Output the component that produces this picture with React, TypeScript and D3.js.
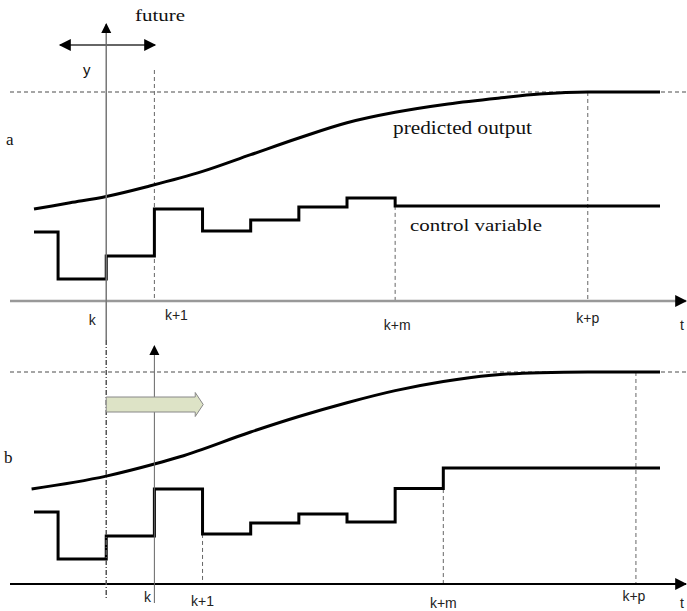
import React from "react";
import * as d3 from "d3";

// sample instants (s = 0 is time k of panel a) and normalised values (1 = setpoint)
const predictedA: [number, number][] = [
  [-1.5, 0.44], [-0.75, 0.47], [0, 0.5], [0.9, 0.55], [2, 0.62], [3, 0.7],
  [4, 0.78], [5, 0.853], [6, 0.903], [7.1, 0.943], [8.2, 0.972], [9, 0.99],
  [10, 1], [11.5, 1]
];
const predictedB: [number, number][] = [
  [-1.55, 0.448], [0, 0.509], [1, 0.566], [1.53, 0.6], [3, 0.717], [4, 0.79],
  [5, 0.855], [6, 0.912], [7, 0.955], [8, 0.985], [9, 0.997],
  [10, 1], [11.5, 1]
];
const controlA: [number, number][] = [
  [-1.5, 0.33], [-1, 0.105], [0, 0.215], [1, 0.44], [2, 0.335], [3, 0.388],
  [4, 0.45], [5, 0.493], [6, 0.455], [11.5, 0.455]
];
const controlB: [number, number][] = [
  [-1.5, 0.34], [-1, 0.118], [0, 0.226], [1, 0.448], [2, 0.236], [3, 0.288],
  [4, 0.33], [5, 0.292], [6, 0.45], [7, 0.547], [11.5, 0.547]
];
const tickLabels = ["k", "k+1", "k+m", "k+p"];
const tickStepsA = [0, 1, 6, 10];
const tickStepsB = [1, 2, 7, 11];

const W = 687;
const H = 611;

const App = () => {
  const svgRef = React.useRef<SVGSVGElement>(null);

  React.useEffect(() => {
    const x = d3.scaleLinear().domain([-1.5, 11.5]).range([34, 660]);
    const yA = d3.scaleLinear().domain([0, 1]).range([301, 92]);
    const yB = d3.scaleLinear().domain([0, 1]).range([584, 372]);

    const svg = d3.select(svgRef.current);
    svg.selectAll("*").remove();

    const defs = svg.append("defs");
    const marker = (id: string, color: string, w: number, h: number) =>
      defs
        .append("marker")
        .attr("id", id)
        .attr("viewBox", "0 0 10 10")
        .attr("refX", 9)
        .attr("refY", 5)
        .attr("markerUnits", "userSpaceOnUse")
        .attr("markerWidth", w)
        .attr("markerHeight", h)
        .attr("orient", "auto-start-reverse")
        .append("path")
        .attr("d", "M0,0 L10,5 L0,10 Z")
        .attr("fill", color);
    marker("head", "#000", 14, 12);
    marker("headSmall", "#000", 10, 12);

    const sans = "'Liberation Sans', Arial, sans-serif";
    const serif = "'Liberation Serif', 'DejaVu Serif', serif";

    const panel = (
      y: d3.ScaleLinear<number, number>,
      predicted: [number, number][],
      control: [number, number][],
      ticks: number[],
      axisColor: string,
      axisWidth: number,
      dashedX: { s: number; from: number }[],
      labelPos: { dx: number; y: number }[],
      tY: number
    ) => {
      // setpoint
      svg
        .append("line")
        .attr("x1", 10)
        .attr("x2", W)
        .attr("y1", y(1))
        .attr("y2", y(1))
        .attr("stroke", "#888")
        .attr("stroke-width", 1.5)
        .attr("stroke-dasharray", "4,3");

      // dashed verticals
      dashedX.forEach((d) => {
        svg
          .append("line")
          .attr("x1", x(d.s))
          .attr("x2", x(d.s))
          .attr("y1", d.from)
          .attr("y2", y(0))
          .attr("stroke", "#666")
          .attr("stroke-width", 1)
          .attr("stroke-dasharray", "4,3");
      });

      // time axis
      svg
        .append("line")
        .attr("x1", 10)
        .attr("x2", W - 1)
        .attr("y1", y(0))
        .attr("y2", y(0))
        .attr("stroke", axisColor)
        .attr("stroke-width", axisWidth)
        .attr("marker-end", "url(#head)");
      svg
        .append("text")
        .attr("x", 682)
        .attr("y", tY)
        .attr("text-anchor", "middle")
        .attr("font-family", sans)
        .attr("font-size", 14)
        .attr("fill", "#222")
        .text("t");

      tickLabels.forEach((t, i) => {
        svg
          .append("text")
          .attr("x", x(ticks[i]) + labelPos[i].dx)
          .attr("y", labelPos[i].y)
          .attr("text-anchor", "middle")
          .attr("font-family", sans)
          .attr("font-size", 14)
          .attr("fill", "#222")
          .text(t);
      });

      const curve = d3
        .line<[number, number]>()
        .x((d) => x(d[0]))
        .y((d) => y(d[1]))
        .curve(d3.curveMonotoneX);
      svg
        .append("path")
        .attr("d", curve(predicted))
        .attr("fill", "none")
        .attr("stroke", "#000")
        .attr("stroke-width", 3);

      const step = d3
        .line<[number, number]>()
        .x((d) => x(d[0]))
        .y((d) => y(d[1]))
        .curve(d3.curveStepAfter);
      svg
        .append("path")
        .attr("d", step(control))
        .attr("fill", "none")
        .attr("stroke", "#000")
        .attr("stroke-width", 3);
    };

    // panel a
    panel(
      yA,
      predictedA,
      controlA,
      tickStepsA,
      "#999",
      2.5,
      [
        { s: 1, from: 70 },
        { s: 6, from: yA(controlA[8][1]) },
        { s: 10, from: yA(1) }
      ],
      [
        { dx: -14, y: 325 },
        { dx: 22, y: 320 },
        { dx: 2, y: 330 },
        { dx: 0, y: 323 }
      ],
      330
    );

    // panel b
    panel(
      yB,
      predictedB,
      controlB,
      tickStepsB,
      "#000",
      2,
      [
        { s: 2, from: yB(controlB[4][1]) },
        { s: 7, from: yB(controlB[9][1]) },
        { s: 11, from: yB(1) }
      ],
      [
        { dx: -7, y: 602 },
        { dx: 0, y: 606 },
        { dx: 0, y: 608 },
        { dx: -2, y: 601 }
      ],
      608
    );

    // y axis of panel a (current instant k)
    svg
      .append("line")
      .attr("x1", x(0))
      .attr("x2", x(0))
      .attr("y1", 340)
      .attr("y2", 24)
      .attr("stroke", "#777")
      .attr("stroke-width", 1.5)
      .attr("marker-end", "url(#headSmall)");
    // k of panel a carried down into panel b
    svg
      .append("line")
      .attr("x1", x(0))
      .attr("x2", x(0))
      .attr("y1", 340)
      .attr("y2", 600)
      .attr("stroke", "#555")
      .attr("stroke-width", 1.5)
      .attr("stroke-dasharray", "5,2,1,2");
    // y axis of panel b
    svg
      .append("line")
      .attr("x1", x(1))
      .attr("x2", x(1))
      .attr("y1", 603)
      .attr("y2", 346)
      .attr("stroke", "#666")
      .attr("stroke-width", 1)
      .attr("marker-end", "url(#headSmall)");

    // double arrow (past / future)
    svg
      .append("line")
      .attr("x1", 60)
      .attr("x2", 155)
      .attr("y1", 45)
      .attr("y2", 45)
      .attr("stroke", "#666")
      .attr("stroke-width", 2)
      .attr("marker-start", "url(#head)")
      .attr("marker-end", "url(#head)");

    // receding-horizon shift arrow
    const ay = 404.5;
    const x0 = x(0);
    const x1 = x(0) + 89;
    const x2 = x(0) + 97;
    svg
      .append("path")
      .attr(
        "d",
        `M${x0},${ay - 7.5} L${x1},${ay - 7.5} L${x1},${ay - 12} L${x2},${ay} L${x1},${ay + 12} L${x1},${ay + 7.5} L${x0},${ay + 7.5} Z`
      )
      .attr("fill", "#dde3c6")
      .attr("stroke", "#888")
      .attr("stroke-width", 1);

    const text = (t: string, tx: number, ty: number, size: number, font: string, len?: number) => {
      const el = svg
        .append("text")
        .attr("x", tx)
        .attr("y", ty)
        .attr("font-family", font)
        .attr("font-size", size)
        .attr("fill", "#111")
        .text(t);
      if (len) el.attr("textLength", len).attr("lengthAdjust", "spacingAndGlyphs");
    };
    text("future", 135, 21, 17, serif, 50);
    text("y", 83, 75, 15, sans);
    text("predicted output", 393, 134, 18, serif, 139);
    text("control variable", 410, 231, 17, serif, 132);
    text("a", 6, 145, 17, serif);
    text("b", 4, 463, 17, serif);
  }, []);

  return (
    <svg
      ref={svgRef}
      width={W}
      height={H}
      style={{ position: "absolute", left: 0, top: 0, background: "#fff" }}
    />
  );
};

export default App;
